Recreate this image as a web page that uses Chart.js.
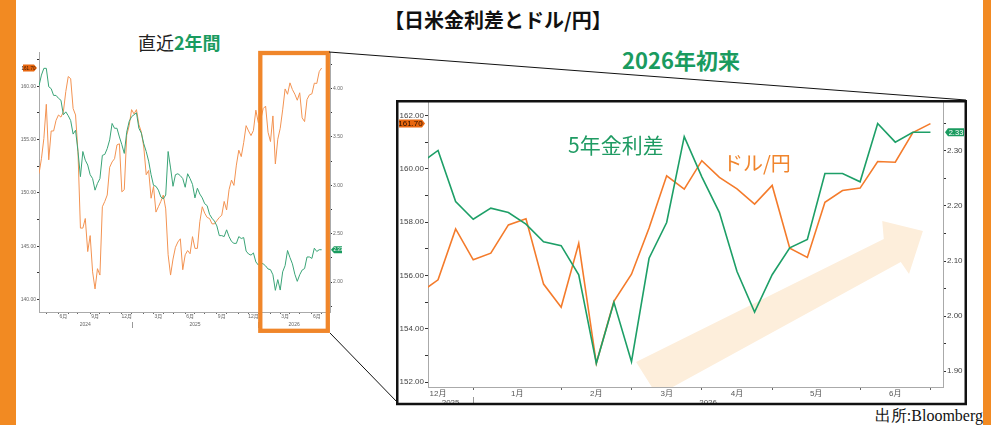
<!DOCTYPE html>
<html lang="ja">
<head>
<meta charset="utf-8">
<title>日米金利差とドル/円</title>
<script src="https://cdn.jsdelivr.net/npm/chart.js@4.4.1/dist/chart.umd.min.js"></script>
<style>
  html, body { margin: 0; padding: 0; background: #fff; }
  #stage { position: relative; width: 991px; height: 425px; overflow: hidden;
           font-family: 'Noto Sans CJK JP', 'Noto Sans', sans-serif; }
  .bar { position: absolute; top: 0; height: 425px; background: #f28a22; }
  .txt { position: absolute; white-space: nowrap; line-height: 1; }
  canvas { position: absolute; }
  svg { position: absolute; left: 0; top: 0; }
</style>
</head>
<body>
<div id="stage">
  <div class="bar" style="left:0;width:16px"></div>
  <div class="bar" style="left:983px;width:8px"></div>

  <div class="txt" style="left:0;width:996px;top:10px;text-align:center;font-size:20px;font-weight:700;color:#111">【日米金利差とドル/円】</div>
  <div class="txt" style="left:138px;top:33px;font-size:18px;color:#222">直近<b style="color:#1a9b5f">2年間</b></div>
  <div class="txt" style="left:622px;top:48px;font-size:22px;font-weight:700;color:#1a9b5f">2026年初来</div>

  <canvas id="twoYear" width="340" height="292" style="left:16px;top:46px"></canvas>
  <canvas id="recent" width="565" height="307" style="left:399px;top:96px"></canvas>

  <div class="txt" style="left:568px;top:134px;font-size:21px;color:#1f9b63">5年金利差</div>
  <div class="txt" style="left:723px;top:153px;font-size:20px;color:#f0852d">ドル/円</div>
  <div class="txt" style="right:8px;top:408px;font-size:16px;color:#111;font-family:'Liberation Serif','DejaVu Serif',serif">出所:Bloomberg</div>

  <svg width="991" height="425" viewBox="0 0 991 425">
    <rect x="260.3" y="53" width="67.5" height="277.8" fill="none" stroke="#f0862a" stroke-width="4.3"/>
    <line x1="329" y1="52" x2="966" y2="100" stroke="#111" stroke-width="1"/>
    <line x1="330" y1="333" x2="398" y2="403" stroke="#111" stroke-width="1"/>
    <rect x="397.25" y="101.25" width="568.5" height="302.75" fill="none" stroke="#111" stroke-width="2.5"/>
  </svg>
</div>

<script>
const DAY = 86400000;
const toDay = (s) => Date.parse(s + 'T00:00:00Z') / DAY;

// weekly Friday readings, first one on 2024-04-12
const firstWeek = '2024-04-12';

// USD/JPY, 2024-04-12 .. 2025-12-05
const usdjpyPrior = [
  151.8, 153.2, 155.1, 158.3, 153.1, 155.8, 155.8, 156.8, 157.3, 157.1,
  157.6, 159.5, 160.9, 160.7, 157.9, 157.3, 153.8, 146.7, 146.7, 147.6,
  144.5, 146.0, 142.6, 141.0, 142.9, 142.3, 148.7, 149.2, 149.8, 152.4,
  152.9, 153.2, 154.5, 154.6, 150.1, 150.3, 155.4, 156.3, 157.8, 157.4,
  157.8, 156.4, 155.7, 154.3, 151.7, 152.1, 149.5, 150.6, 148.2, 148.7,
  149.2, 149.8, 148.5, 144.2, 142.3, 143.8, 144.9, 145.4, 145.7, 142.8,
  144.2, 144.6, 144.3, 145.9, 144.8, 144.8, 147.3, 148.7, 148.1, 147.7,
  147.6, 147.1, 147.1, 147.4, 147.7, 147.9, 149.2, 148.4, 150.3, 151.2,
  150.7, 152.6, 154.0, 153.4, 154.7, 156.3, 155.8
];
// US-Japan 5y yield spread (%), same weeks
const spreadPrior = [
  4.03, 4.14, 4.21, 4.21, 4.02, 4.00, 3.93, 3.93, 3.90, 3.88,
  3.73, 3.76, 3.72, 3.67, 3.53, 3.57, 3.35, 3.09, 3.35, 3.26,
  3.21, 3.11, 3.07, 2.95, 3.02, 3.07, 3.31, 3.32, 3.38, 3.47,
  3.64, 3.59, 3.59, 3.50, 3.42, 3.33, 3.55, 3.66, 3.71, 3.73,
  3.75, 3.59, 3.54, 3.43, 3.35, 3.25, 3.11, 3.00, 2.99, 2.95,
  2.88, 2.86, 2.90, 3.35, 3.18, 2.99, 3.11, 3.12, 3.10, 3.07,
  2.98, 3.12, 3.07, 3.01, 2.87, 2.97, 2.91, 2.87, 2.81, 2.79,
  2.70, 2.66, 2.63, 2.58, 2.48, 2.48, 2.47, 2.54, 2.47, 2.42,
  2.40, 2.40, 2.47, 2.45, 2.46, 2.32, 2.29
];
// 2025-12-12 .. 2026-07-03
const usdjpyRecent = [
  155.37, 155.84, 157.75, 156.59, 156.84, 157.90, 158.13, 155.68, 154.81, 157.21,
  152.71, 155.03, 156.05, 157.78, 159.74, 159.24, 160.31, 159.68, 159.25, 158.68,
  159.38, 157.03, 156.68, 158.75, 159.19, 159.28, 160.28, 160.25, 161.36, 161.70
];
const spreadRecent = [
  2.278, 2.301, 2.208, 2.176, 2.196, 2.188, 2.167, 2.135, 2.128, 2.075,
  1.914, 2.025, 1.917, 2.105, 2.170, 2.326, 2.253, 2.188, 2.081, 2.007,
  2.075, 2.124, 2.139, 2.259, 2.259, 2.244, 2.350, 2.316, 2.334, 2.334
];

const monthNames = ['1月', '2月', '3月', '4月', '5月', '6月', '7月', '8月', '9月', '10月', '11月', '12月'];

// visible windows
const twoYearView = ['2024-04-12', '2026-07-27'];
const recentView = ['2025-12-15', '2026-07-08'];
const twoYearYen = [138.84, 163.2];
const twoYearSpread = [1.69, 4.379];
const recentYen = [151.82, 162.51];
const recentSpread = [1.871, 2.389];

const GREEN = '#1d9f67';
const ORANGE = '#f47b2b';

Chart.defaults.font.family = "'Liberation Sans', 'Noto Sans CJK JP', sans-serif";

const start = toDay(firstWeek);
const weekly = (values, offset) => values.map((v, i) => ({ x: start + 7 * (i + offset), y: v }));

// Bloomberg-style calendar axis: tick at the first Friday of each month, label centred in the month
function firstFriday(y, m) {
  const d = new Date(Date.UTC(y, m, 1));
  return Date.UTC(y, m, 1 + (5 - d.getUTCDay() + 7) % 7) / DAY;
}

function calendar(min, max, every) {
  const ticks = [];
  const labels = new Map();
  const years = [];
  const d0 = new Date((min - 45) * DAY);
  let y = d0.getUTCFullYear();
  let m = d0.getUTCMonth();
  for (;;) {
    const a = firstFriday(y, m);
    if (a > max) break;
    const ny = m === 11 ? y + 1 : y;
    const nm = (m + 1) % 12;
    const b = firstFriday(ny, nm);
    if (a >= min) ticks.push(a);
    const mid = (a + b) / 2;
    if (mid >= min && mid <= max && (m + 1) % every === 0) {
      ticks.push(mid);
      labels.set(mid, monthNames[m]);
    }
    y = ny;
    m = nm;
  }
  const y0 = new Date(min * DAY).getUTCFullYear();
  const y1 = new Date(max * DAY).getUTCFullYear();
  for (let yr = y0; yr <= y1; yr++) {
    const jan = firstFriday(yr, 0);
    const a = Math.max(min, jan);
    const b = Math.min(max, firstFriday(yr + 1, 0));
    if (b > a) years.push({ label: String(yr), center: (a + b) / 2, sep: jan > min && jan < max ? jan : null });
  }
  return { min, max, ticks, labels, years };
}

function timeAxis(cal, o) {
  return {
    type: 'linear',
    min: cal.min,
    max: cal.max,
    afterBuildTicks: (s) => { s.ticks = cal.ticks.map((v) => ({ value: v })); },
    afterFit: (s) => { s.height = o.height; },
    ticks: {
      autoSkip: false, maxRotation: 0, padding: o.pad,
      font: { size: o.size }, color: o.color,
      callback: (v) => cal.labels.get(v) || ''
    },
    grid: {
      drawOnChartArea: false, tickLength: o.tick,
      color: (c) => (c.tick && cal.labels.has(c.tick.value) ? 'rgba(0,0,0,0)' : '#666')
    },
    border: { color: '#aaa' }
  };
}

function valueAxis(side, range, step, isLabel, o) {
  return {
    position: side,
    min: range[0],
    max: range[1],
    afterFit: (s) => { s.width = o.width; },
    ticks: {
      stepSize: step, includeBounds: false, autoSkip: false, padding: o.pad,
      font: { size: o.size }, color: o.color,
      callback: (v) => (isLabel(v) ? v.toFixed(2) : '')
    },
    grid: { drawOnChartArea: false, tickLength: o.tick, color: '#333' },
    border: { color: '#aaa' }
  };
}

function yearRow(cal, o) {
  return {
    id: 'yearRow',
    afterDraw(chart) {
      const x = chart.scales.x;
      const ctx = chart.ctx;
      ctx.save();
      ctx.fillStyle = o.color;
      ctx.strokeStyle = '#999';
      ctx.lineWidth = 1;
      ctx.font = `${o.size}px 'Liberation Sans', sans-serif`;
      ctx.textAlign = 'center';
      ctx.textBaseline = 'middle';
      cal.years.forEach((yr) => {
        ctx.fillText(yr.label, x.getPixelForValue(yr.center), x.top + o.mid);
        if (yr.sep !== null) {
          const px = Math.round(x.getPixelForValue(yr.sep)) + 0.5;
          ctx.beginPath();
          ctx.moveTo(px, x.top + o.sepFrom);
          ctx.lineTo(px, x.top + o.sepTo);
          ctx.stroke();
        }
      });
      ctx.restore();
    }
  };
}

// last-value flags on the axes
function valueTags(tags) {
  return {
    id: 'valueTags',
    afterDraw(chart) {
      const { ctx, chartArea } = chart;
      tags.forEach((t) => {
        const y = chart.scales[t.axis].getPixelForValue(t.value);
        const left = t.side === 'left';
        const tip = left ? chartArea.left - t.gap : chartArea.right + t.gap;
        const inner = left ? tip - 3 : tip + 3;
        const outer = left ? inner - t.width : inner + t.width;
        const h = t.height / 2;
        ctx.save();
        ctx.fillStyle = t.fill;
        ctx.beginPath();
        ctx.moveTo(tip, y);
        ctx.lineTo(inner, y - h);
        ctx.lineTo(outer, y - h);
        ctx.lineTo(outer, y + h);
        ctx.lineTo(inner, y + h);
        ctx.closePath();
        ctx.fill();
        ctx.fillStyle = t.text;
        ctx.font = `${t.size}px 'Liberation Sans', sans-serif`;
        ctx.textAlign = 'center';
        ctx.textBaseline = 'middle';
        ctx.fillText(t.value.toFixed(2), (inner + outer) / 2, y + 0.5);
        ctx.restore();
      });
    }
  };
}

// pale trend arrow behind the lines, in fractions of the plot area
const trendArrow = {
  id: 'trendArrow',
  beforeDatasetsDraw(chart) {
    const { ctx, chartArea: a } = chart;
    const shape = [[0.404, 0.912], [0.885, 0.481], [0.882, 0.4175], [0.961, 0.4526],
                   [0.934, 0.6035], [0.918, 0.561], [0.445, 1.03]];
    ctx.save();
    ctx.beginPath();
    ctx.rect(a.left, a.top, a.width, a.height);
    ctx.clip();
    ctx.fillStyle = '#fdeedb';
    ctx.beginPath();
    shape.forEach(([fx, fy], i) => {
      const px = a.left + fx * a.width;
      const py = a.top + fy * a.height;
      if (i === 0) ctx.moveTo(px, py); else ctx.lineTo(px, py);
    });
    ctx.closePath();
    ctx.fill();
    ctx.restore();
  }
};

const baseOptions = {
  responsive: false,
  animation: false,
  events: [],
  elements: { point: { radius: 0 }, line: { tension: 0 } },
  plugins: { legend: { display: false }, tooltip: { enabled: false } }
};

// ---- left: last two years ----
const calTwoYear = calendar(toDay(twoYearView[0]), toDay(twoYearView[1]), 3);
const usdjpyAll = usdjpyPrior.concat(usdjpyRecent);
const spreadAll = spreadPrior.concat(spreadRecent);

new Chart(document.getElementById('twoYear'), {
  type: 'line',
  data: {
    datasets: [
      { data: weekly(spreadAll, 0), yAxisID: 'y1', borderColor: '#3aa477', borderWidth: 1 },
      { data: weekly(usdjpyAll, 0), yAxisID: 'y', borderColor: '#f39352', borderWidth: 1 }
    ]
  },
  options: {
    ...baseOptions,
    layout: { padding: { top: 6, left: 0, right: 0, bottom: 0 } },
    scales: {
      x: timeAxis(calTwoYear, { height: 26, pad: 0, size: 5, tick: 2, color: '#666' }),
      y: valueAxis('left', twoYearYen, 2.5, (v) => Math.round(v * 10) % 50 === 0,
        { width: 23, pad: 1, size: 5, tick: 2, color: '#666' }),
      y1: valueAxis('right', twoYearSpread, 0.25, (v) => Math.round(v * 100) % 50 === 0,
        { width: 26, pad: 1, size: 5, tick: 2, color: '#666' })
    }
  },
  plugins: [
    yearRow(calTwoYear, { size: 5, color: '#666', mid: 12.5, sepFrom: 10, sepTo: 16 }),
    valueTags([
      { axis: 'y', side: 'left', value: usdjpyAll[usdjpyAll.length - 1], gap: 2, width: 11, height: 7, size: 4.5, fill: '#e8670f', text: '#3a1600' },
      { axis: 'y1', side: 'right', value: spreadAll[spreadAll.length - 1], gap: 1, width: 8, height: 7, size: 4.5, fill: '#1a9b5f', text: '#fff' }
    ])
  ]
});

// ---- right: since the start of 2026 ----
const calRecent = calendar(toDay(recentView[0]), toDay(recentView[1]), 1);
const recentOffset = usdjpyPrior.length;

new Chart(document.getElementById('recent'), {
  type: 'line',
  data: {
    datasets: [
      { data: weekly(spreadRecent, recentOffset), yAxisID: 'y1', borderColor: GREEN, borderWidth: 1.6 },
      { data: weekly(usdjpyRecent, recentOffset), yAxisID: 'y', borderColor: ORANGE, borderWidth: 1.6 }
    ]
  },
  options: {
    ...baseOptions,
    layout: { padding: { top: 6, left: 0, right: 0, bottom: 0 } },
    scales: {
      x: timeAxis(calRecent, { height: 16, pad: -1, size: 8, tick: 3, color: '#555' }),
      y: valueAxis('left', recentYen, 1, (v) => Math.round(v) % 2 === 0,
        { width: 29, pad: 1, size: 8, tick: 3, color: '#444' }),
      y1: valueAxis('right', recentSpread, 0.05, (v) => Math.round(v * 100) % 10 === 0,
        { width: 21, pad: 1, size: 8, tick: 3, color: '#444' })
    }
  },
  plugins: [
    trendArrow,
    yearRow(calRecent, { size: 8, color: '#555', mid: 16, sepFrom: 10, sepTo: 20 }),
    valueTags([
      { axis: 'y', side: 'left', value: usdjpyRecent[usdjpyRecent.length - 1], gap: 3, width: 23, height: 8, size: 8, fill: '#e8670f', text: '#2a1000' },
      { axis: 'y1', side: 'right', value: spreadRecent[spreadRecent.length - 1], gap: 2, width: 16, height: 8, size: 7.5, fill: '#1a9b5f', text: '#fff' }
    ])
  ]
});
</script>
</body>
</html>
